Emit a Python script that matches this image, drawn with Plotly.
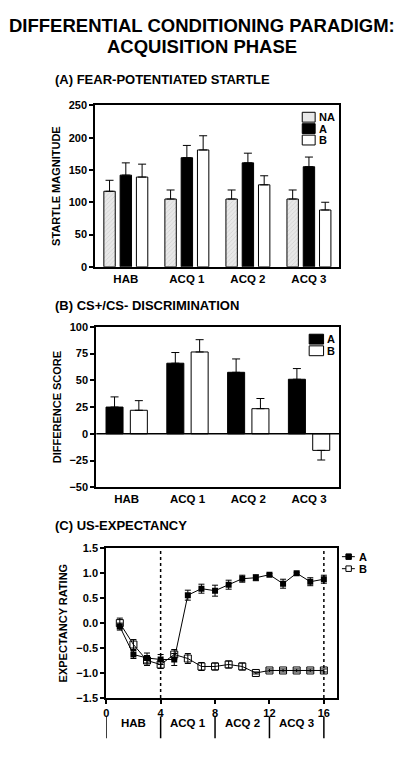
import plotly.graph_objects as go

# ---------------- data ----------------
phases = ["HAB", "ACQ 1", "ACQ 2", "ACQ 3"]

# (A) fear-potentiated startle
startle_na = [117, 105, 105, 105]
startle_na_err = [17, 14, 14, 14]
startle_a = [142, 169, 161, 155]
startle_a_err = [19, 19, 15, 15]
startle_b = [139, 181, 127, 88]
startle_b_err = [20, 22, 14, 12]

# (B) CS+/CS- discrimination
diff_a = [25, 66, 57.5, 51]
diff_a_err = [9.5, 10, 12.5, 10]
diff_b = [22, 76.5, 23.5, -15.5]
diff_b_err = [9, 11.5, 9.5, 9]

# (C) US-expectancy
trials = list(range(1, 17))
exp_a = [-0.07, -0.63, -0.70, -0.73, -0.73, 0.56, 0.69, 0.65, 0.77, 0.89, 0.91, 0.97, 0.79, 1.00, 0.83, 0.88]
exp_a_err = [0.07, 0.08, 0.10, 0.10, 0.12, 0.10, 0.09, 0.11, 0.09, 0.07, 0.06, 0.02, 0.09, 0.02, 0.08, 0.08]
exp_b = [0.00, -0.43, -0.75, -0.83, -0.63, -0.71, -0.87, -0.87, -0.83, -0.87, -1.00, -0.95, -0.95, -0.95, -0.95, -0.95]
exp_b_err = [0.10, 0.10, 0.10, 0.08, 0.10, 0.10, 0.08, 0.07, 0.07, 0.07, 0.02, 0.03, 0.03, 0.03, 0.03, 0.03]

phase_bounds = [0, 4, 8, 12, 16]
phase_centers = [2, 6, 10, 14]
dashed_at = [4, 16]

title_lines = ["DIFFERENTIAL CONDITIONING PARADIGM:", "ACQUISITION PHASE"]

FONT = "Liberation Sans, Arial, Helvetica, sans-serif"
W, H = 400, 760


def X(px):
    return px / W


def Y(py):
    return 1 - py / H


def up_err(vals, errs):
    return [e if v >= 0 else 0 for v, e in zip(vals, errs)]


def down_err(vals, errs):
    return [0 if v >= 0 else e for v, e in zip(vals, errs)]


def bar_err(vals, errs):
    return dict(type="data", array=up_err(vals, errs), arrayminus=down_err(vals, errs),
                symmetric=False, color="black", thickness=1, width=4)


NA_PATTERN = dict(shape="/", fgcolor="#aaaaaa", bgcolor="#e8e8e8", size=3, solidity=0.2)

fig = go.Figure()

# ---- Panel A ----
fig.add_trace(go.Bar(x=phases, y=startle_na, name="NA", xaxis="x", yaxis="y",
                     marker=dict(color="#e4e4e4", line=dict(color="black", width=1), pattern=NA_PATTERN),
                     error_y=bar_err(startle_na, startle_na_err)))
fig.add_trace(go.Bar(x=phases, y=startle_a, name="A", xaxis="x", yaxis="y",
                     marker=dict(color="black", line=dict(color="black", width=1)),
                     error_y=bar_err(startle_a, startle_a_err)))
fig.add_trace(go.Bar(x=phases, y=startle_b, name="B", xaxis="x", yaxis="y",
                     marker=dict(color="white", line=dict(color="black", width=1)),
                     error_y=bar_err(startle_b, startle_b_err)))

# ---- Panel B ----
fig.add_trace(go.Bar(x=phases, y=diff_a, name="A", xaxis="x2", yaxis="y2",
                     marker=dict(color="black", line=dict(color="black", width=1)),
                     error_y=bar_err(diff_a, diff_a_err), offsetgroup="a2"))
fig.add_trace(go.Bar(x=phases, y=diff_b, name="B", xaxis="x2", yaxis="y2",
                     marker=dict(color="white", line=dict(color="black", width=1)),
                     error_y=bar_err(diff_b, diff_b_err), offsetgroup="b2"))

# ---- Panel C ----
fig.add_trace(go.Scatter(x=trials, y=exp_a, name="A", xaxis="x3", yaxis="y3", mode="lines+markers",
                         line=dict(color="black", width=1),
                         marker=dict(symbol="square", size=6, color="black"),
                         error_y=dict(type="data", array=exp_a_err, color="black", thickness=1, width=3)))
fig.add_trace(go.Scatter(x=trials, y=exp_b, name="B", xaxis="x3", yaxis="y3", mode="lines+markers",
                         line=dict(color="black", width=1),
                         marker=dict(symbol="square-open", size=7, color="black", line=dict(width=1)),
                         error_y=dict(type="data", array=exp_b_err, color="black", thickness=1, width=3)))

axis_common = dict(showline=True, linecolor="black", linewidth=2, mirror=True,
                   ticks="outside", ticklen=4, tickwidth=1.5, tickcolor="black",
                   showgrid=False, zeroline=False,
                   tickfont=dict(family=FONT, size=11, color="black", weight="bold"))

cat_axis = {**axis_common, "ticks": "",
            "tickfont": dict(family=FONT, size=11.5, color="black", weight="bold")}

title_font = dict(family=FONT, size=11, color="black", weight="bold")
leg_font = dict(family=FONT, size=11, color="black", weight="bold")

shapes = []
annotations = []

for xv in dashed_at:
    shapes.append(dict(type="line", xref="x3", yref="y3 domain", x0=xv, x1=xv, y0=0, y1=1,
                       line=dict(color="black", width=1.5, dash="dot")))
for xv in phase_bounds:
    shapes.append(dict(type="line", xref="x3", yref="paper", x0=xv, x1=xv,
                       y0=Y(744), y1=Y(722), line=dict(color="black", width=1.5)))
# zero line in panel B
shapes.append(dict(type="line", xref="x2 domain", yref="y2", x0=0, x1=1, y0=0, y1=0,
                   line=dict(color="black", width=1.5)))

# ---- manual legends (key boxes) ----
legend_a_items = [("NA", "#e8e8e8"), ("A", "black"), ("B", "white")]
legend_b_items = [("A", "black"), ("B", "white")]


def box_legend(items, x0, y0, pitch, bw, bh):
    for i, (label, col) in enumerate(items):
        top = y0 + i * pitch
        shapes.append(dict(type="rect", xref="paper", yref="paper",
                           x0=X(x0), x1=X(x0 + bw), y0=Y(top + bh), y1=Y(top),
                           fillcolor=col, line=dict(color="black", width=1)))
        annotations.append(dict(text=label, x=X(x0 + bw + 1.5), y=Y(top + bh / 2),
                                xref="paper", yref="paper", xanchor="left", yanchor="middle",
                                showarrow=False, font=leg_font))


box_legend(legend_a_items, 301.5, 108, 11.6, 13, 10)
box_legend(legend_b_items, 308.5, 333.5, 11.8, 14.5, 10)

legend_c_items = [("A", "black"), ("B", "white")]
for i, (label, col) in enumerate(legend_c_items):
    cy = 559.5 + i * 12.2
    shapes.append(dict(type="line", xref="paper", yref="paper", x0=X(341.5), x1=X(354.5),
                       y0=Y(cy), y1=Y(cy), line=dict(color="black", width=1)))
    shapes.append(dict(type="rect", xref="paper", yref="paper", x0=X(345.5), x1=X(351),
                       y0=Y(cy + 2.8), y1=Y(cy - 2.8), fillcolor=col,
                       line=dict(color="black", width=1)))
    annotations.append(dict(text=label, x=X(357), y=Y(cy), xref="paper", yref="paper",
                            xanchor="left", yanchor="middle", showarrow=False, font=leg_font))

for line_text, cy in zip(title_lines, [19.5, 41]):
    annotations.append(dict(text=line_text, x=0.5, y=Y(cy), xref="paper", yref="paper",
                            xanchor="center", yanchor="middle", showarrow=False,
                            font=dict(family=FONT, size=18.5, color="black", weight="bold")))

annotations += [
    dict(text="(A) FEAR-POTENTIATED STARTLE", x=X(50), y=Y(75), xref="paper", yref="paper",
         xanchor="left", yanchor="middle", showarrow=False,
         font=dict(family=FONT, size=13, color="black", weight="bold")),
    dict(text="(B) CS+/CS- DISCRIMINATION", x=X(50), y=Y(304), xref="paper", yref="paper",
         xanchor="left", yanchor="middle", showarrow=False,
         font=dict(family=FONT, size=13, color="black", weight="bold")),
    dict(text="(C) US-EXPECTANCY", x=X(50), y=Y(528), xref="paper", yref="paper",
         xanchor="left", yanchor="middle", showarrow=False,
         font=dict(family=FONT, size=13, color="black", weight="bold")),
]
for xc, lab in zip(phase_centers, phases):
    annotations.append(dict(text=lab, x=xc, y=Y(729), xref="x3", yref="paper",
                            xanchor="center", yanchor="middle", showarrow=False,
                            font=dict(family=FONT, size=11.5, color="black", weight="bold")))

fig.update_layout(
    width=W, height=H, margin=dict(l=0, r=0, t=0, b=0),
    paper_bgcolor="white", plot_bgcolor="white",
    barmode="group", bargap=0.2, bargroupgap=0.3,
    showlegend=False,
    font=dict(family=FONT, color="black"),
    xaxis=dict(domain=[X(93), X(339)], anchor="y", **cat_axis),
    yaxis=dict(domain=[Y(265), Y(101)], anchor="x", range=[0, 250], dtick=50,
               title=dict(text="STARTLE MAGNITUDE", font=title_font, standoff=6), **axis_common),
    xaxis2=dict(domain=[X(94), X(339)], anchor="y2", **cat_axis),
    yaxis2=dict(domain=[Y(489), Y(326)], anchor="x2", range=[-50, 100], dtick=25,
                title=dict(text="DIFFERENCE SCORE", font=title_font, standoff=6), **axis_common),
    xaxis3=dict(domain=[X(104), X(337)], anchor="y3", range=[0, 17],
                tickvals=phase_bounds, **axis_common),
    yaxis3=dict(domain=[Y(703), Y(551)], anchor="x3", range=[-1.5, 1.5], dtick=0.5,
                tickformat=".1f",
                title=dict(text="EXPECTANCY RATING", font=title_font, standoff=6), **axis_common),
    shapes=shapes, annotations=annotations,
)

fig.write_html("out.html", config={"displayModeBar": False},
               post_script="document.body.style.margin='0px';")
